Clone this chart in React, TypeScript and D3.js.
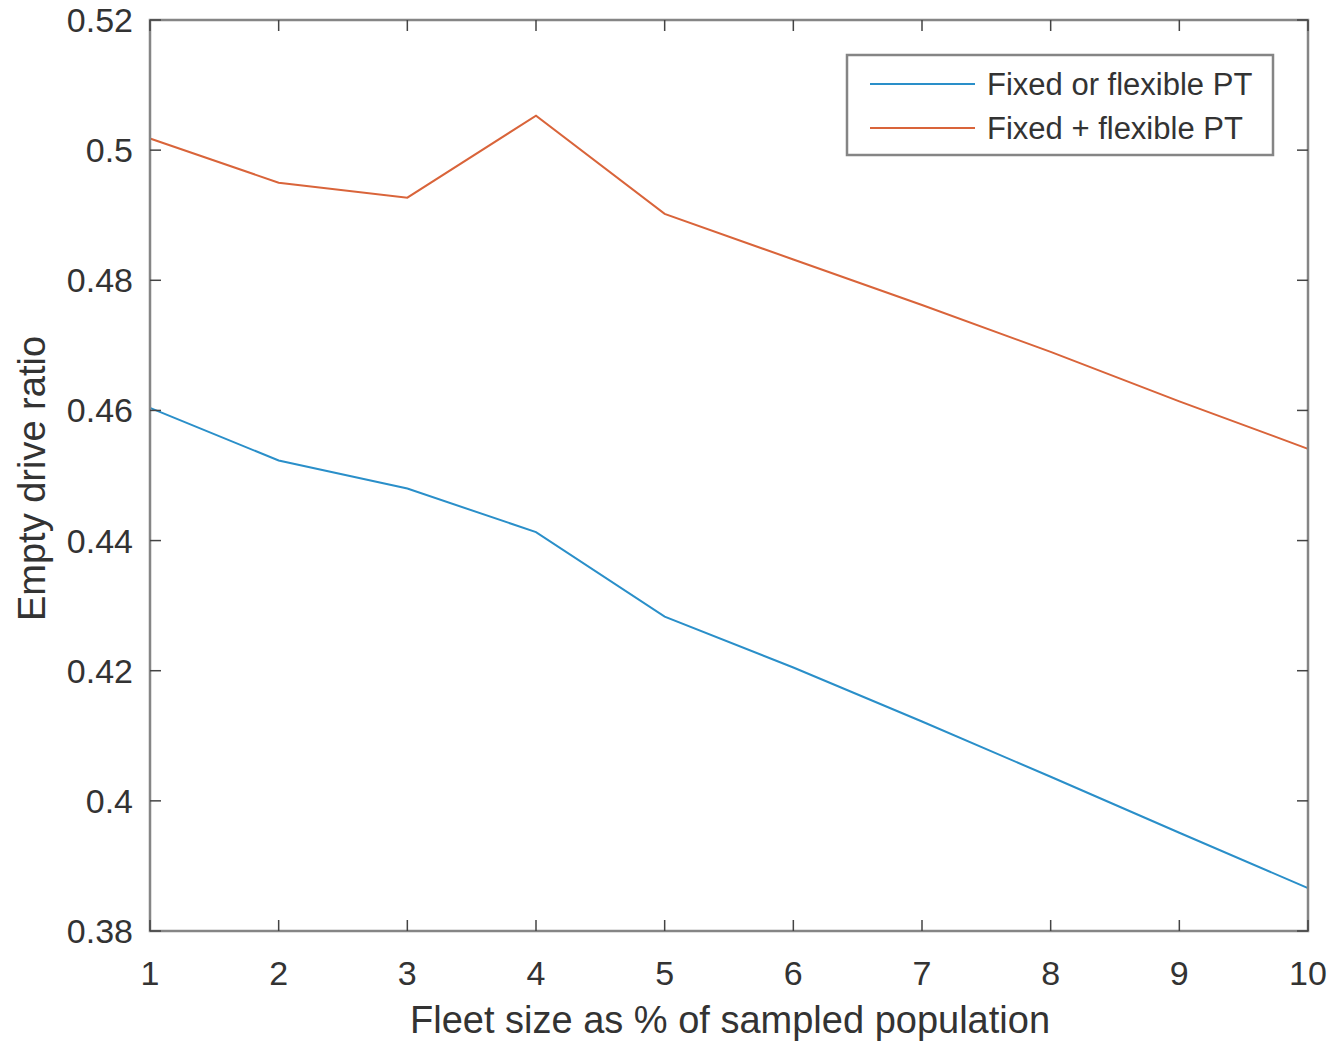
import React from "react";
import * as d3 from "d3";

const fleetSizes = [1, 2, 3, 4, 5, 6, 7, 8, 9, 10];
const fixedOrFlexible = [0.4604, 0.4523, 0.4480, 0.4413, 0.4283, 0.4205, 0.4122, 0.4037, 0.3951, 0.3866];
const fixedPlusFlexible = [0.5018, 0.4950, 0.4927, 0.5053, 0.4902, 0.4832, 0.4762, 0.4690, 0.4614, 0.4541];
const seriesNames = ["Fixed or flexible PT", "Fixed + flexible PT"];
const yTicks = [0.38, 0.4, 0.42, 0.44, 0.46, 0.48, 0.5, 0.52];

const W = 1338, H = 1043;
const left = 150, right = 1308, top = 20, bottom = 931;
const font = "'Liberation Sans', Arial, Helvetica, sans-serif";

export default function App() {
  const x = d3.scaleLinear().domain([1, 10]).range([left, right]);
  const y = d3.scaleLinear().domain([0.38, 0.52]).range([bottom, top]);

  const line = d3.line<number>().x((_, i) => x(fleetSizes[i])).y(d => y(d));
  const series = [
    { name: seriesNames[0], values: fixedOrFlexible, color: "#2a8fc9" },
    { name: seriesNames[1], values: fixedPlusFlexible, color: "#d9643a" },
  ];
  const tick = 11;
  const axisColor = "#858585";

  return (
    <svg width={W} height={H} style={{ position: "absolute", left: 0, top: 0, background: "#fff" }}>
      <rect x={0} y={0} width={W} height={H} fill="#fff" />

      {series.map(s => (
        <path key={s.name} d={line(s.values) || ""} fill="none" stroke={s.color} strokeWidth={2} />
      ))}

      {/* box */}
      <rect x={left} y={top} width={right - left} height={bottom - top} fill="none" stroke={axisColor} strokeWidth={2.5} />

      {/* x ticks */}
      {fleetSizes.map(v => (
        <g key={"x" + v}>
          <line x1={x(v)} x2={x(v)} y1={bottom} y2={bottom - tick} stroke="#444" strokeWidth={1.5} />
          <line x1={x(v)} x2={x(v)} y1={top} y2={top + tick} stroke="#444" strokeWidth={1.5} />
          <text x={x(v)} y={985} textAnchor="middle" fontFamily={font} fontSize={34} fill="#333">{v}</text>
        </g>
      ))}

      {/* y ticks */}
      {yTicks.map(v => (
        <g key={"y" + v}>
          <line x1={left} x2={left + tick} y1={y(v)} y2={y(v)} stroke="#444" strokeWidth={1.5} />
          <line x1={right} x2={right - tick} y1={y(v)} y2={y(v)} stroke="#444" strokeWidth={1.5} />
          <text x={133} y={y(v) + 12} textAnchor="end" fontFamily={font} fontSize={34} fill="#333">{d3.format("")(+v.toFixed(2))}</text>
        </g>
      ))}

      <text x={(left + right) / 2 + 1} y={1033} textAnchor="middle" fontFamily={font} fontSize={38} fill="#333">
        Fleet size as % of sampled population
      </text>
      <text transform={`translate(45,${(top + bottom) / 2 + 3}) rotate(-90)`} textAnchor="middle" fontFamily={font} fontSize={38} fill="#333">
        Empty drive ratio
      </text>

      {/* legend */}
      <rect x={847} y={55} width={426} height={100} fill="#fff" stroke={axisColor} strokeWidth={2.5} />
      {series.map((s, i) => (
        <g key={"leg" + i}>
          <line x1={870} x2={975} y1={84 + i * 44} y2={84 + i * 44} stroke={s.color} strokeWidth={2} />
          <text x={987} y={95 + i * 44} fontFamily={font} fontSize={31} fill="#333">{s.name}</text>
        </g>
      ))}
    </svg>
  );
}
